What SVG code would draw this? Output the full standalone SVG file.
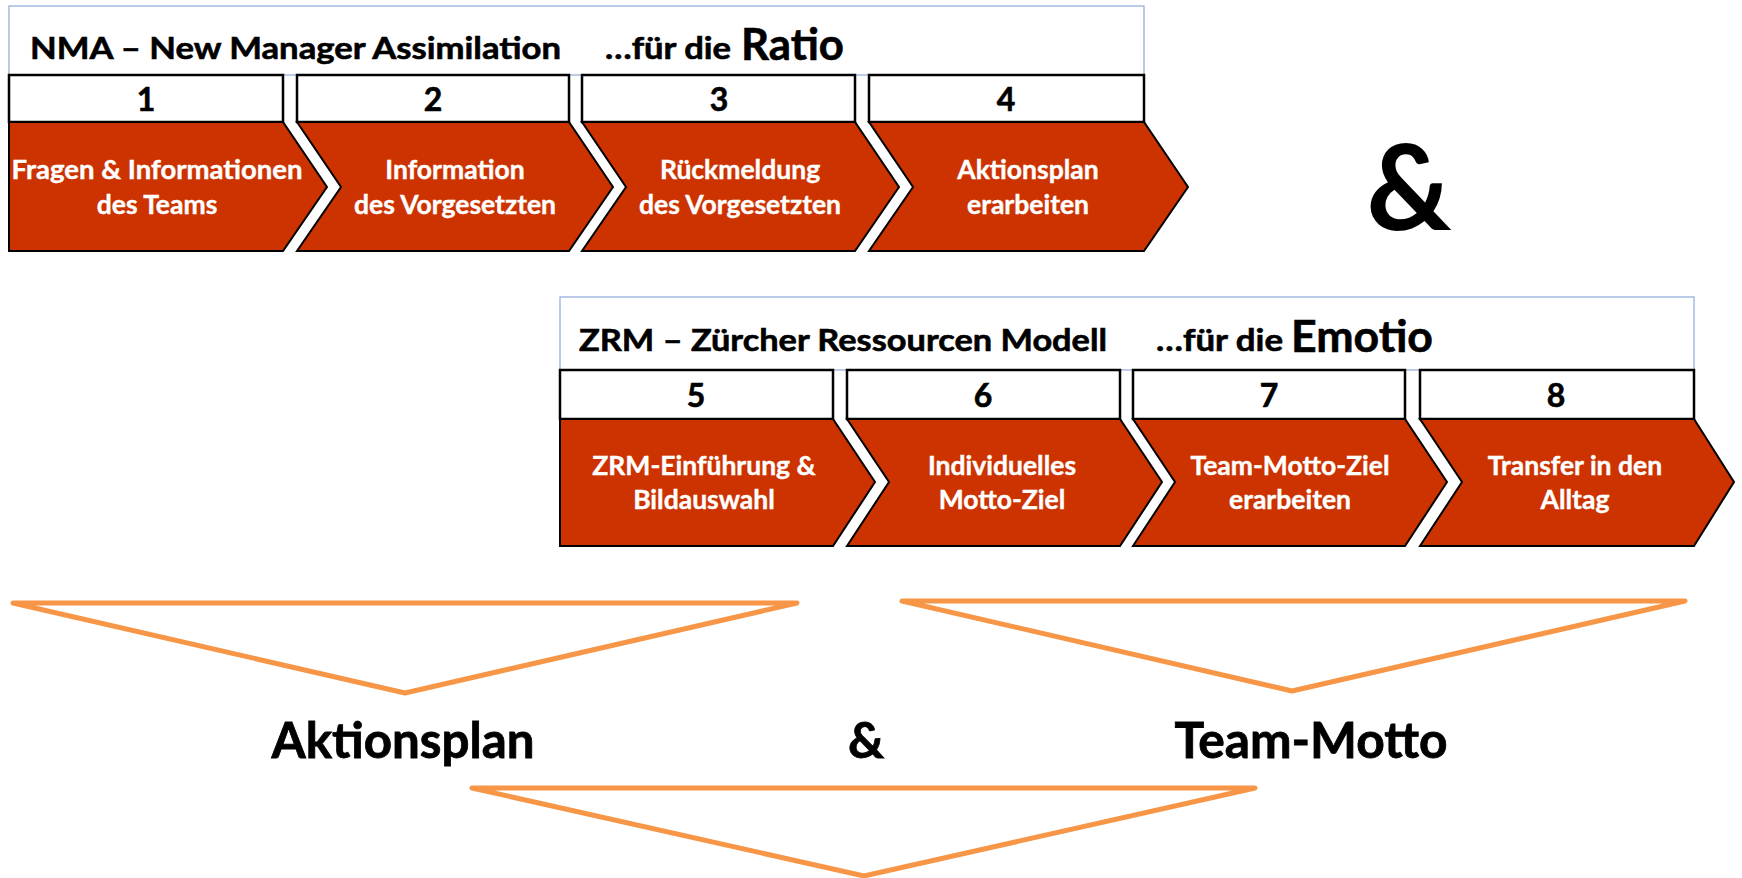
<svg xmlns="http://www.w3.org/2000/svg" width="1742" height="878" viewBox="0 0 1742 878">
<style>
text{font-family:Lato,"Open Sans","Liberation Sans",sans-serif;font-weight:bold}
.frame{fill:#fff;stroke:#8EAADB;stroke-width:1.2}
.num{fill:#fff;stroke:#000;stroke-width:2.5}
.chev{fill:#CC3300;stroke:#000;stroke-width:2}
.numt{font-size:32px;fill:#000;stroke:#000;stroke-width:0.6;text-anchor:middle}
.ct{font-size:26.5px;fill:#fff;stroke:#fff;stroke-width:0.4;text-anchor:middle}
.tt{font-size:31px;fill:#000;stroke:#000;stroke-width:0.6}
.big{font-size:44px;fill:#000;stroke:#000;stroke-width:0.6}
.res{font-size:50px;fill:#000;stroke:#000;stroke-width:0.8;text-anchor:middle}
.tri{fill:none;stroke:#F79646;stroke-width:5;stroke-linejoin:round;stroke-linecap:round}
</style>
<g id="nma-header">
<rect class="frame" x="9" y="6" width="1135" height="69"/>
<text class="tt" x="30" y="59" textLength="531" lengthAdjust="spacingAndGlyphs">NMA – New Manager Assimilation</text>
<text class="tt" x="605" y="59" textLength="126" lengthAdjust="spacingAndGlyphs">…für die</text>
<text class="big" x="741" y="60" textLength="103" lengthAdjust="spacingAndGlyphs">Ratio</text>
</g>
<g id="step1">
<rect class="num" x="9" y="75" width="274" height="47"/>
<text class="numt" x="146" y="111">1</text>
<polygon class="chev" points="9,122 283,122 327,187 283,251 9,251"/>
<text class="ct" x="157" y="179" textLength="291" lengthAdjust="spacingAndGlyphs">Fragen &amp; Informationen</text>
<text class="ct" x="157" y="214">des Teams</text>
</g>
<g id="step2">
<rect class="num" x="297" y="75" width="272" height="47"/>
<text class="numt" x="433" y="111">2</text>
<polygon class="chev" points="297,122 569,122 613,187 569,251 297,251 341,187"/>
<text class="ct" x="455" y="179">Information</text>
<text class="ct" x="455" y="214">des Vorgesetzten</text>
</g>
<g id="step3">
<rect class="num" x="582" y="75" width="273" height="47"/>
<text class="numt" x="719" y="111">3</text>
<polygon class="chev" points="582,122 855,122 899,187 855,251 582,251 626,187"/>
<text class="ct" x="740" y="179">Rückmeldung</text>
<text class="ct" x="740" y="214">des Vorgesetzten</text>
</g>
<g id="step4">
<rect class="num" x="869" y="75" width="275" height="47"/>
<text class="numt" x="1006" y="111">4</text>
<polygon class="chev" points="869,122 1144,122 1188,187 1144,251 869,251 913,187"/>
<text class="ct" x="1028" y="179">Aktionsplan</text>
<text class="ct" x="1028" y="214">erarbeiten</text>
</g>
<g id="amp-top">
<text x="1409" y="230" font-size="118" text-anchor="middle" fill="#000">&amp;</text>
</g>
<g id="zrm-header">
<rect class="frame" x="560" y="297" width="1134" height="73"/>
<text class="tt" x="579" y="351" textLength="528" lengthAdjust="spacingAndGlyphs">ZRM – Zürcher Ressourcen Modell</text>
<text class="tt" x="1156" y="351" textLength="127" lengthAdjust="spacingAndGlyphs">…für die</text>
<text class="big" x="1291" y="352" textLength="142" lengthAdjust="spacingAndGlyphs">Emotio</text>
</g>
<g id="step5">
<rect class="num" x="560" y="370" width="273" height="49"/>
<text class="numt" x="696" y="407">5</text>
<polygon class="chev" points="560,419 833,419 875,482 833,546 560,546"/>
<text class="ct" x="704" y="475">ZRM-Einführung &amp;</text>
<text class="ct" x="704" y="509">Bildauswahl</text>
</g>
<g id="step6">
<rect class="num" x="847" y="370" width="273" height="49"/>
<text class="numt" x="983" y="407">6</text>
<polygon class="chev" points="847,419 1120,419 1162,482 1120,546 847,546 889,482"/>
<text class="ct" x="1002" y="475">Individuelles</text>
<text class="ct" x="1002" y="509">Motto-Ziel</text>
</g>
<g id="step7">
<rect class="num" x="1133" y="370" width="272" height="49"/>
<text class="numt" x="1269" y="407">7</text>
<polygon class="chev" points="1133,419 1405,419 1447,482 1405,546 1133,546 1175,482"/>
<text class="ct" x="1290" y="475">Team-Motto-Ziel</text>
<text class="ct" x="1290" y="509">erarbeiten</text>
</g>
<g id="step8">
<rect class="num" x="1420" y="370" width="274" height="49"/>
<text class="numt" x="1556" y="407">8</text>
<polygon class="chev" points="1420,419 1694,419 1734,482 1694,546 1420,546 1462,482"/>
<text class="ct" x="1575" y="475">Transfer in den</text>
<text class="ct" x="1575" y="509">Alltag</text>
</g>
<g id="connectors">
<polygon class="tri" points="13,603 797,603 405,693"/>
<polygon class="tri" points="902,601 1685,601 1292,691"/>
<polygon class="tri" points="472,788 1255,788 864,876"/>
</g>
<g id="results">
<text class="res" x="403" y="758" textLength="263" lengthAdjust="spacingAndGlyphs">Aktionsplan</text>
<text class="res" x="866" y="758">&amp;</text>
<text class="res" x="1311" y="758" textLength="273" lengthAdjust="spacingAndGlyphs">Team-Motto</text>
</g>
</svg>
